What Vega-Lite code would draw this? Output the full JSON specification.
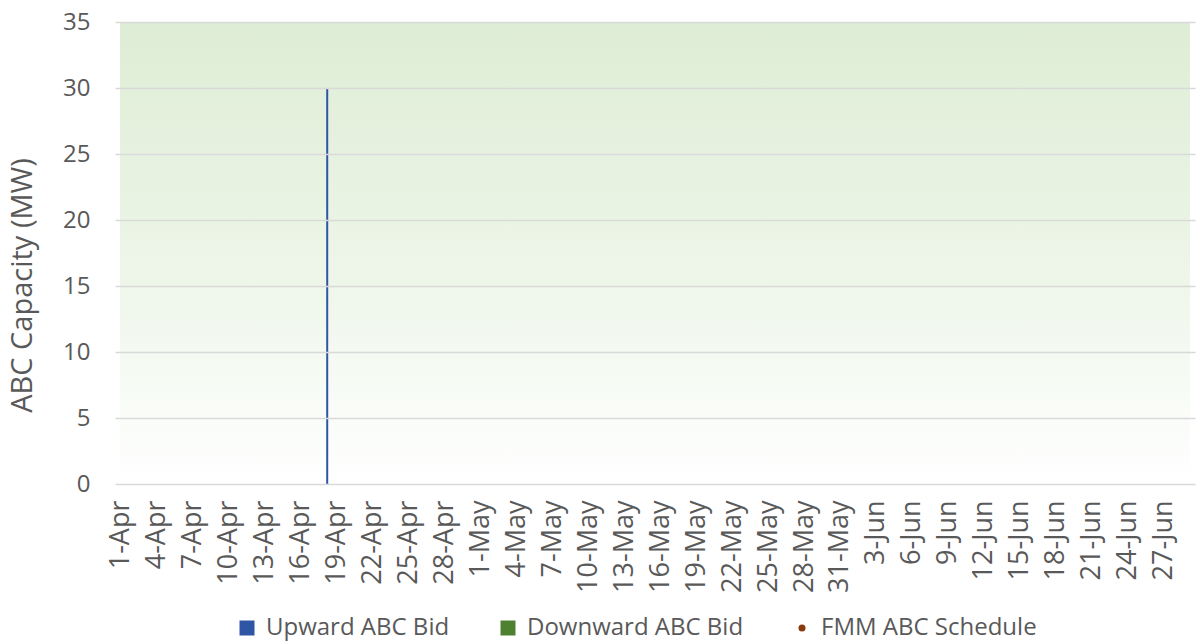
{
  "$schema": "https://vega.github.io/schema/vega-lite/v6.json",
  "width": 1080,
  "height": 462,
  "autosize": {"type": "none"},
  "padding": {"left": 115, "top": 22, "right": 1, "bottom": 160},
  "background": "white",
  "config": {
    "view": {"stroke": null},
    "font": "Open Sans",
    "axisX": {"labelOverlap": false, "labelFlush": false, "labelBound": false, "grid": false, "ticks": false, "domain": false},
    "axisY": {"grid": true, "gridColor": "#D9D9D9", "gridWidth": 1.5, "ticks": false, "domain": false, "zindex": 1}
  },
  "layer": [
    {
      "data": {"values": [{}]},
      "mark": {
        "type": "rect",
        "color": {
          "gradient": "linear", "x1": 0, "y1": 0, "x2": 0, "y2": 1,
          "stops": [{"offset": 0, "color": "#DEEDD5"}, {"offset": 0.5, "color": "#ECF5E7"}, {"offset": 1, "color": "#FFFFFF"}]
        }
      },
      "encoding": {
        "x": {
          "datum": 1680300000000, "type": "temporal",
          "scale": {"type": "utc", "domain": [1680300000000, 1688014800000]},
          "axis": {
            "title": null,
            "values": [1680307200000,1680566400000,1680825600000,1681084800000,1681344000000,1681603200000,1681862400000,1682121600000,1682380800000,1682640000000,1682899200000,1683158400000,1683417600000,1683676800000,1683936000000,1684195200000,1684454400000,1684713600000,1684972800000,1685232000000,1685491200000,1685750400000,1686009600000,1686268800000,1686528000000,1686787200000,1687046400000,1687305600000,1687564800000,1687824000000],
            "format": "%-d-%b",
            "labelAngle": -90, "labelAlign": "right", "labelBaseline": "middle",
            "labelFontSize": 27, "labelColor": "#595959", "labelPadding": 16,
            "labelOverlap": false, "labelFlush": false,
            "ticks": false, "grid": false, "domain": false
          }
        },
        "x2": {"datum": 1688014800000},
        "y": {
          "datum": 35, "type": "quantitative",
          "scale": {"domain": [0, 35]},
          "axis": {
            "values": [0, 5, 10, 15, 20, 25, 30, 35],
            "title": "ABC Capacity (MW)", "titleFontSize": 29, "titleFontWeight": "normal",
            "titleColor": "#595959", "titlePadding": 25, "titleY": 263,
            "labelFontSize": 24, "labelColor": "#595959", "labelPadding": 25,
            "grid": true, "ticks": false, "domain": false,
            "gridColor": "#D9D9D9", "gridWidth": 1.5, "zindex": 1
          }
        },
        "y2": {"datum": 0}
      }
    },
    {
      "data": {"values": [
        {"date": "2023-04-18T05:00:00Z", "series": "Upward ABC Bid", "capacity": 30}
      ]},
      "mark": {"type": "bar", "size": 2},
      "encoding": {
        "x": {
          "field": "date", "type": "temporal",
          "scale": {"type": "utc", "domain": [1680300000000, 1688014800000]},
          "axis": {
            "title": null,
            "values": [1680307200000,1680566400000,1680825600000,1681084800000,1681344000000,1681603200000,1681862400000,1682121600000,1682380800000,1682640000000,1682899200000,1683158400000,1683417600000,1683676800000,1683936000000,1684195200000,1684454400000,1684713600000,1684972800000,1685232000000,1685491200000,1685750400000,1686009600000,1686268800000,1686528000000,1686787200000,1687046400000,1687305600000,1687564800000,1687824000000],
            "format": "%-d-%b",
            "labelAngle": -90, "labelAlign": "right", "labelBaseline": "middle",
            "labelFontSize": 27, "labelColor": "#595959", "labelPadding": 16,
            "labelOverlap": false, "labelFlush": false,
            "ticks": false, "grid": false, "domain": false
          }
        },
        "y": {
          "field": "capacity", "type": "quantitative",
          "scale": {"domain": [0, 35]},
          "axis": {
            "values": [0, 5, 10, 15, 20, 25, 30, 35],
            "title": "ABC Capacity (MW)", "titleFontSize": 29, "titleFontWeight": "normal",
            "titleColor": "#595959", "titlePadding": 25, "titleY": 263,
            "labelFontSize": 24, "labelColor": "#595959", "labelPadding": 25,
            "grid": true, "ticks": false, "domain": false,
            "gridColor": "#D9D9D9", "gridWidth": 1.5, "zindex": 1
          }
        },
        "y2": {"datum": 0},
        "color": {
          "field": "series", "type": "nominal",
          "scale": {
            "domain": ["Upward ABC Bid", "Downward ABC Bid", "FMM ABC Schedule"],
            "range": ["#2F55A5", "#4E8031", "#8B3A0E"]
          },
          "legend": {
            "title": null, "orient": "none", "direction": "horizontal",
            "legendX": 120, "legendY": 594,
            "labelFontSize": 24, "labelColor": "#595959", "labelLimit": 400,
            "symbolType": "square", "symbolSize": 225, "symbolStrokeWidth": 0,
            "columnPadding": 46, "labelOffset": 7,
            "encode": {
              "symbols": {
                "update": {
                  "shape": {"signal": "datum.value === 'FMM ABC Schedule' ? 'circle' : 'square'"},
                  "size": {"signal": "datum.value === 'FMM ABC Schedule' ? 50 : 225"}
                }
              }
            }
          }
        }
      }
    }
  ]
}
